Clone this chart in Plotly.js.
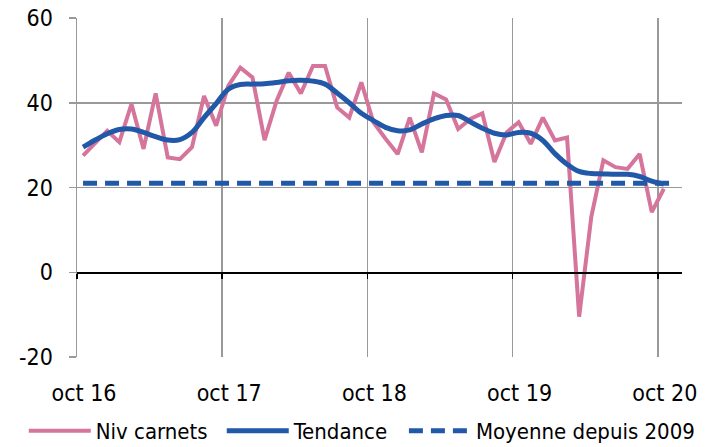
<!DOCTYPE html>
<html>
<head>
<meta charset="utf-8">
<script src="https://cdn.plot.ly/plotly-3.0.1.min.js"></script>
<style>
  body { margin: 0; background: #fff; }
  #myDiv { width: 720px; height: 447px; }
</style>
</head>
<body>
<div id="myDiv"></div>
<script>
// mois depuis oct 16 (index 0) jusqu'a oct 20 (index 48)
var tickLabels = ['oct 16', 'oct 17', 'oct 18', 'oct 19', 'oct 20'];
var tickPos = [-0.5, 11.5, 23.5, 35.5, 47.5];
var yTicks = [-20, 0, 20, 40, 60];
var yTickText = ['-20', '0', '20', '40', '60'];

var nivCarnets = [27.5, 30.5, 33.4, 30.7, 39.7, 29.1, 42.2, 27.1, 26.7, 29.5, 41.6, 34.6,
                  44.0, 48.3, 46.0, 31.2, 40.5, 47.1, 42.2, 48.7, 48.7, 38.9, 36.5, 44.8,
                  35.4, 31.5, 27.9, 36.5, 28.3, 42.2, 40.8, 33.8, 36.2, 37.5, 26.0, 33.0,
                  35.4, 30.3, 36.5, 31.1, 31.8, -10.5, 13.0, 26.4, 24.8, 24.4, 27.9, 14.2,
                  19.7];

var tendance = [29.5, 31.2, 32.7, 33.7, 33.8, 33.0, 32.0, 31.2, 31.3, 33.0, 36.5, 39.8,
                43.2, 44.3, 44.4, 44.5, 44.8, 45.2, 45.3, 45.1, 44.4, 42.3, 40.0, 37.5,
                35.8, 34.2, 33.4, 33.6, 35.0, 36.2, 37.0, 37.0, 35.5, 34.0, 32.8, 32.4,
                33.0, 32.8, 31.1, 28.0, 25.5, 23.8, 23.3, 23.2, 23.1, 23.1, 22.6, 21.5,
                20.8];

var moyenneX = [0, 49];
var moyenne = [21, 21];

var idx = nivCarnets.map(function (v, i) { return i; });

var pink = 'rgb(213,117,156)';
var blue = 'rgb(33,89,168)';
var font = '"DejaVu Sans Condensed", "Liberation Sans Narrow", sans-serif';

var trace1 = {
  x: idx, y: nivCarnets, type: 'scatter', mode: 'lines',
  name: 'Niv carnets', legend: 'legend',
  line: {color: pink, width: 4}
};
var trace2 = {
  x: idx, y: tendance, type: 'scatter', mode: 'lines',
  name: 'Tendance', legend: 'legend2',
  line: {color: blue, width: 5, shape: 'spline', smoothing: 1}
};
var trace3 = {
  x: moyenneX, y: moyenne, type: 'scatter', mode: 'lines',
  name: 'Moyenne depuis 2009', xaxis: 'x2', legend: 'legend3',
  line: {color: blue, width: 5, dash: '14px,8px'}
};

// une legende par serie, pour les placer comme sur l'original
function leg(x) {
  return {
    orientation: 'h', xref: 'container', yref: 'container',
    x: x, xanchor: 'left', y: 0.036, yanchor: 'middle',
    font: {size: 22}, itemwidth: 62, borderwidth: 0, bgcolor: 'rgba(0,0,0,0)'
  };
}

var layout = {
  width: 720, height: 447,
  margin: {l: 77, r: 38, t: 18, b: 90},
  paper_bgcolor: '#fff', plot_bgcolor: '#fff',
  font: {family: font, size: 23, color: '#000'},
  showlegend: true,
  legend: leg(0.033),
  legend2: leg(0.308),
  legend3: leg(0.561),
  xaxis: {
    range: [-0.5, 49.5], tickmode: 'array', tickvals: tickPos, ticktext: tickLabels,
    showgrid: true, gridcolor: '#999', gridwidth: 1.5,
    zeroline: false, showline: false, ticks: '',
    ticklabelshift: 7, ticklabelstandoff: 20
  },
  xaxis2: {
    overlaying: 'x', matches: 'x', anchor: 'free', position: 0.25,
    tickmode: 'array', tickvals: tickPos, showticklabels: false,
    showgrid: false, zeroline: false,
    showline: true, linecolor: '#000', linewidth: 1.5,
    ticks: 'outside', ticklen: 5, tickcolor: '#000', tickwidth: 1.5
  },
  yaxis: {
    range: [-20, 60], tickmode: 'array', tickvals: yTicks, ticktext: yTickText,
    showgrid: true, gridcolor: '#999', gridwidth: 1.5,
    zeroline: false,
    showline: true, linecolor: '#999', linewidth: 1.5,
    ticks: 'outside', ticklen: 7, tickcolor: '#999', tickwidth: 1.5,
    ticklabelstandoff: 11
  }
};

Plotly.newPlot('myDiv', [trace1, trace2, trace3], layout, {displayModeBar: false, staticPlot: true});
</script>
</body>
</html>
